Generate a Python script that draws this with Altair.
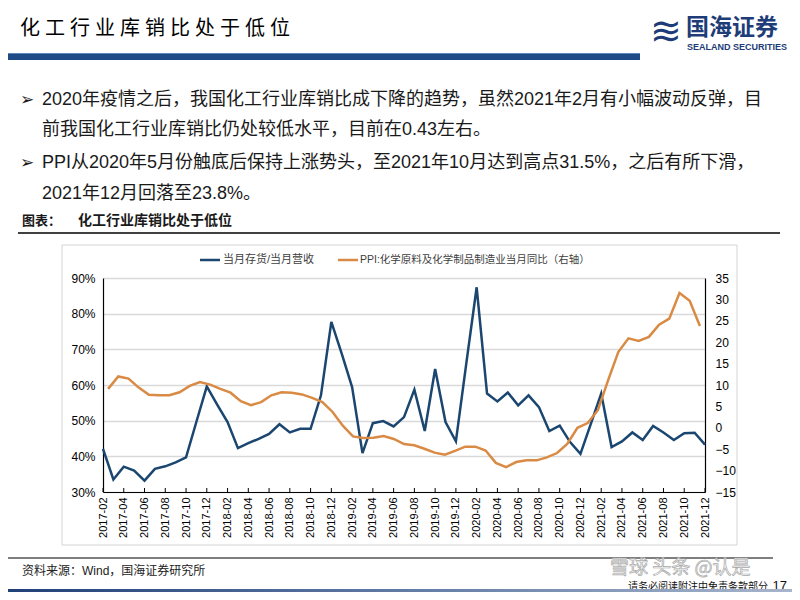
import altair as alt
import pandas as pd

# ---------------- data ----------------
months = [f"{y}-{m:02d}" for y in range(2017, 2022) for m in range(1, 13)][1:]  # 2017-02 .. 2021-12

ratio = [42.1, 33.5, 37.1, 36.0, 33.2, 36.5, 37.2, 38.3, 39.7, 49.7, 59.6,
         54.5, 49.6, 42.3, 43.7, 44.9, 46.3, 49.0, 46.7, 47.7, 47.7, 57.1, 77.7,
         68.8, 59.4, 40.9, 49.3, 49.9, 48.4, 51.0, 58.7, 47.1, 64.5, 49.6, 44.2,
         66.0, 87.4, 57.6, 55.4, 57.9, 54.3, 57.1, 53.8, 47.1, 48.6, 44.0, 40.7,
         49.1, 57.6, 42.6, 44.2, 46.7, 44.6, 48.5, 46.7, 44.6, 46.5, 46.6, 43.3]

ppi = [9.1, 12.0, 11.5, 9.4, 7.7, 7.6, 7.6, 8.3, 9.8, 10.7, 10.1,
       9.1, 8.2, 6.2, 5.3, 6.0, 7.6, 8.3, 8.2, 7.8, 7.0, 6.0, 3.7,
       0.5, -2.0, -2.4, -2.3, -1.9, -2.6, -3.8, -4.1, -4.9, -5.8, -6.3, -5.4,
       -4.4, -4.4, -5.3, -8.2, -9.2, -8.0, -7.6, -7.6, -6.9, -5.9, -3.75, 0.0,
       1.1, 4.1, 11.1, 17.7, 20.9, 20.3, 21.25, 24.1, 25.5, 31.5, 29.7, 23.8]

tick_months = months[::2]
left_ticks = [30, 40, 50, 60, 70, 80, 90]
right_ticks = [-15, -10, -5, 0, 5, 10, 15, 20, 25, 30, 35]

df = pd.DataFrame({"month": months, "ratio": ratio, "ppi": ppi})
df_ticks = pd.DataFrame({"month": tick_months})

# ---------------- style ----------------
BLUE = "#1b4670"
ORANGE = "#d98a44"
CJK = "Noto Sans CJK SC"
LAT = "Liberation Sans"
MIX = "Liberation Sans, Noto Sans CJK SC"

PX0, PY0 = 103, 278          # page position of plot origin
W, H = 602, 214


def X(px):
    return px - PX0


def Y(py):
    return py - PY0


one = alt.Data(values=[{}])


def txt(s, x, y, size, color="#1a1a1a", font=MIX, weight="normal", align="left", **kw):
    return alt.Chart(one).mark_text(text=s, align=align, baseline="middle", fontSize=size,
                                    font=font, fontWeight=weight, color=color, **kw).encode(
        x=alt.value(X(x)), y=alt.value(Y(y)))


def rect(x1, x2, y1, y2, **kw):
    return alt.Chart(one).mark_rect(**kw).encode(
        x=alt.value(X(x1)), x2=alt.value(X(x2)), y=alt.value(Y(y1)), y2=alt.value(Y(y2)))


def hrule(x1, x2, y, color, width):
    return alt.Chart(one).mark_rule(color=color, strokeWidth=width).encode(
        x=alt.value(X(x1)), x2=alt.value(X(x2)), y=alt.value(Y(y)))


# ---------------- chart layers ----------------
xscale_point = alt.Scale(type="point", padding=0, domain=months)

blue = alt.Chart(df).mark_line(color=BLUE, strokeWidth=2.5).encode(
    x=alt.X("month:O", scale=xscale_point,
            axis=alt.Axis(values=tick_months, labelAngle=270, ticks=False, grid=False, title=None,
                          labelPadding=5, labelFontSize=11, domainColor="black", domainWidth=1.2)),
    y=alt.Y("ratio:Q", scale=alt.Scale(domain=[30, 90], nice=False, zero=False),
            axis=alt.Axis(orient="left", values=left_ticks, labelExpr="datum.value + '%'", title=None,
                          grid=True, gridColor="#d9d9d9", gridWidth=1.3, ticks=False,
                          domainColor="black", domainWidth=1.2, labelPadding=8)),
)

orange = alt.Chart(df).mark_line(color=ORANGE, strokeWidth=2.5).encode(
    x=alt.X("month:O", scale=alt.Scale(type="band", paddingInner=0, paddingOuter=0, domain=months),
            bandPosition=0.5, axis=None),
    y=alt.Y("ppi:Q", scale=alt.Scale(domain=[-15, 35], nice=False, zero=False),
            axis=alt.Axis(orient="right", values=right_ticks, title=None, grid=False, ticks=False,
                          domainColor="black", domainWidth=1.2, labelPadding=10)),
)

xticks = alt.Chart(df_ticks).mark_rule(color="black", strokeWidth=1).encode(
    x=alt.X("month:O", scale=xscale_point, axis=None),
    y=alt.value(H), y2=alt.value(H - 4),
)

# ---------------- slide decorations ----------------
title = "\u2005".join("化工行业库销比处于低位")

layers = [
    rect(62, 737, 245, 545, fillOpacity=0, stroke="#d4d4d4", strokeWidth=1),
    blue, orange, xticks,
    # header
    txt(title, 20, 29, 20, color="#000000", font=CJK),
    rect(0, 640, 53, 60, color="#1e4a86"),
    hrule(0, 640, 53.5, "#5f86b8", 1),
    txt("≋", 666, 33, 38, color="#1d3c78", font="DejaVu Sans", align="center"),
    txt("国海证券", 686, 28, 23, color="#1d3c78", font=CJK, weight="bold"),
    txt("SEALAND SECURITIES", 687, 47, 9, color="#1d3c78", font=LAT, weight="bold"),
    # bullets
    txt("➢", 20, 100, 17, color="#1a1a1a", font="DejaVu Sans"),
    txt("2020年疫情之后，我国化工行业库销比成下降的趋势，虽然2021年2月有小幅波动反弹，目", 42, 100, 18),
    txt("前我国化工行业库销比仍处较低水平，目前在0.43左右。", 42, 130, 18),
    txt("➢", 20, 163, 17, color="#1a1a1a", font="DejaVu Sans"),
    txt("PPI从2020年5月份触底后保持上涨势头，至2021年10月达到高点31.5%，之后有所下滑，", 42, 163, 18),
    txt("2021年12月回落至23.8%。", 42, 194, 18),
    txt("图表：", 22, 221, 13, weight="bold", font=CJK),
    txt("化工行业库销比处于低位", 78, 221, 14, weight="bold", font=CJK),
    hrule(18, 780, 233, "#000000", 1.5),
    # legend
    hrule(200, 220, 260, BLUE, 2.5),
    txt("当月存货/当月营收", 223, 260, 11, color="#404040"),
    hrule(338, 358, 260, ORANGE, 2.5),
    txt("PPI:化学原料及化学制品制造业当月同比（右轴）", 360, 260, 10.5, color="#404040"),
    # footer
    hrule(0, 773, 558, "#000000", 1.2),
    txt("资料来源：Wind，国海证券研究所", 22, 571, 12, color="#222222"),
    txt("雪球  头条 @认是", 610, 568, 19, color="#f6f6f6", font=CJK, stroke="#a8a8a8", strokeWidth=0.7),
    txt("请务必阅读附注中免责条款部分", 628, 587, 10, color="#111111", font=CJK),
    txt("17", 787, 586, 13, color="#111111", font=LAT, align="right"),
    rect(0, 800, 589, 600, color=alt.Gradient(gradient="linear",
                                             stops=[alt.GradientStop(color="#1f3f78", offset=0),
                                                    alt.GradientStop(color="#6e86ad", offset=0.6),
                                                    alt.GradientStop(color="#a9b6cc", offset=1)],
                                             x1=0, x2=1, y1=0, y2=0)),
]

chart = alt.layer(*layers).resolve_scale(x="independent", y="independent").properties(
    width=W, height=H,
    padding={"left": 95, "top": 270, "right": 87, "bottom": 100},
    autosize=alt.AutoSizeParams(type="none"),
    background="white",
).configure_view(stroke=None).configure_axis(
    labelFont=LAT, labelFontSize=12, labelColor="#000000"
)

chart.save("out.html", embed_options={"renderer": "svg", "actions": False})
